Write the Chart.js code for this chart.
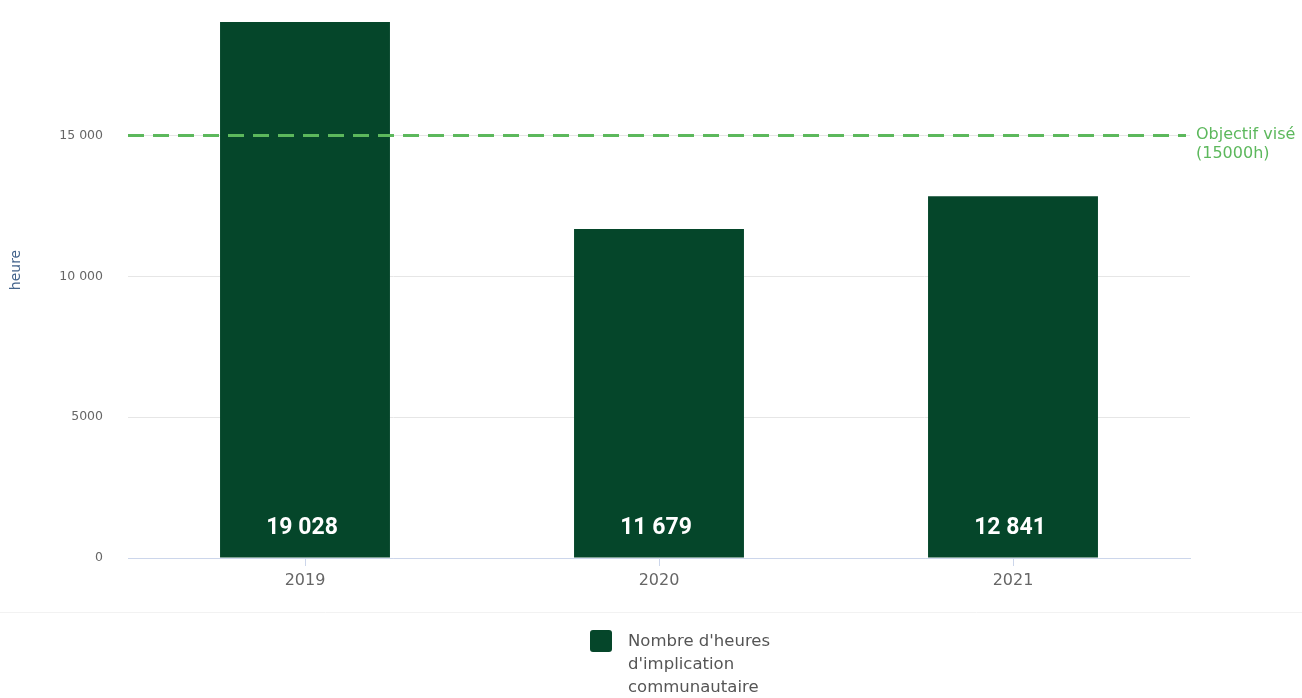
<!DOCTYPE html>
<html>
<head>
<meta charset="utf-8">
<script src="https://cdn.jsdelivr.net/npm/chart.js@4/dist/chart.umd.min.js"></script>
<style>
  html, body { margin: 0; padding: 0; background: #fff; }
  #wrap { width: 1302px; height: 698px; }
</style>
</head>
<body>
<div id="wrap"><canvas id="chart" width="1302" height="698"></canvas></div>
<script>
// données
const categories = ['2019', '2020', '2021'];
const hours = [19028, 11679, 12841];
const yTicks = [0, 5000, 10000, 15000];
const target = 15000;
const targetLabel = ['Objectif visé', '(15000h)'];
const seriesLabel = ["Nombre d'heures", "d'implication", 'communautaire'];
const yTitle = 'heure';

const barColor = '#05462a';
const goalColor = '#5cb85c';
const font = '"DejaVu Sans"';

// 15 000 / 5000 comme Highcharts
function fmt(v) {
    if (v < 10000) return String(v);
    return String(v).replace(/\B(?=(\d{3})+(?!\d))/g, ' ');
}

// ligne pointillée de l'objectif + texte à droite
const goalLine = {
    id: 'goalLine',
    afterDatasetsDraw(chart) {
        const ctx = chart.ctx;
        const area = chart.chartArea;
        const y = chart.scales.y.getPixelForValue(target);
        ctx.save();
        ctx.strokeStyle = goalColor;
        ctx.lineWidth = 3;
        ctx.setLineDash([16, 9]);
        ctx.beginPath();
        ctx.moveTo(area.left, y);
        ctx.lineTo(area.right - 4, y);
        ctx.stroke();
        ctx.setLineDash([]);
        ctx.fillStyle = goalColor;
        ctx.font = '16px ' + font;
        ctx.textAlign = 'left';
        ctx.textBaseline = 'middle';
        targetLabel.forEach((t, i) => ctx.fillText(t, area.right + 6, y - 1 + i * 19));
        ctx.restore();
    }
};

// valeurs en bas des barres
const barValues = {
    id: 'barValues',
    afterDatasetsDraw(chart) {
        const ctx = chart.ctx;
        const meta = chart.getDatasetMeta(0);
        ctx.save();
        ctx.fillStyle = '#ffffff';
        ctx.font = 'bold 23px Roboto';
        ctx.textAlign = 'center';
        ctx.textBaseline = 'middle';
        meta.data.forEach((bar, i) => {
            ctx.fillText(fmt(hours[i]), bar.x - 3, chart.chartArea.bottom - 30);
        });
        ctx.restore();
    }
};

// légende sur plusieurs lignes
const bottomLegend = {
    id: 'bottomLegend',
    afterDraw(chart) {
        const ctx = chart.ctx;
        const area = chart.chartArea;
        const x = (area.left + area.right) / 2 - 69;
        const y = 630;
        ctx.save();
        ctx.strokeStyle = '#f2f2f2';
        ctx.lineWidth = 1;
        ctx.beginPath();
        ctx.moveTo(0, 612.5);
        ctx.lineTo(chart.width, 612.5);
        ctx.stroke();
        ctx.fillStyle = barColor;
        ctx.beginPath();
        ctx.roundRect(x, y, 22, 22, 3);
        ctx.fill();
        ctx.fillStyle = '#555';
        ctx.font = '16.5px ' + font;
        ctx.textAlign = 'left';
        ctx.textBaseline = 'middle';
        seriesLabel.forEach((t, i) => ctx.fillText(t, x + 38, y + 12 + i * 23));
        ctx.restore();
    }
};

new Chart(document.getElementById('chart'), {
    type: 'bar',
    data: {
        labels: categories,
        datasets: [{
            label: seriesLabel.join(' '),
            data: hours,
            backgroundColor: barColor,
            borderWidth: 0,
            categoryPercentage: 1,
            barPercentage: 0.48
        }]
    },
    options: {
        responsive: false,
        animation: false,
        layout: { padding: { top: 22, right: 112, bottom: 100, left: 0 } },
        plugins: {
            legend: { display: false },
            tooltip: { enabled: false }
        },
        scales: {
            x: {
                grid: {
                    offset: false,
                    drawOnChartArea: false,
                    drawTicks: true,
                    tickLength: 8,
                    color: '#ccd6eb'
                },
                border: { color: '#ccd6eb', width: 1 },
                ticks: {
                    color: '#666',
                    padding: 5,
                    font: { family: 'DejaVu Sans', size: 16 }
                },
                afterFit(scale) {
                    scale.height = 40;
                    scale.paddingLeft = 0;
                    scale.paddingRight = 0;
                }
            },
            y: {
                min: 0,
                max: Math.max(...hours),
                afterBuildTicks(scale) {
                    scale.ticks = yTicks.map(v => ({ value: v }));
                },
                grid: { color: '#e6e6e6', drawTicks: false },
                border: { display: false },
                ticks: {
                    color: '#666',
                    padding: 25,
                    font: { family: 'DejaVu Sans', size: 12.5 },
                    callback: v => fmt(v)
                },
                title: {
                    display: true,
                    // espaces en tête : remonte le titre comme dans l'original
                    text: '         ' + yTitle,
                    color: '#44648c',
                    font: { family: 'DejaVu Sans', size: 14 },
                    padding: { top: 8, bottom: 0 }
                },
                afterFit(scale) {
                    scale.width = 128;
                    scale.paddingTop = 0;
                    scale.paddingBottom = 0;
                }
            }
        }
    },
    plugins: [goalLine, barValues, bottomLegend]
});
</script>
</body>
</html>
